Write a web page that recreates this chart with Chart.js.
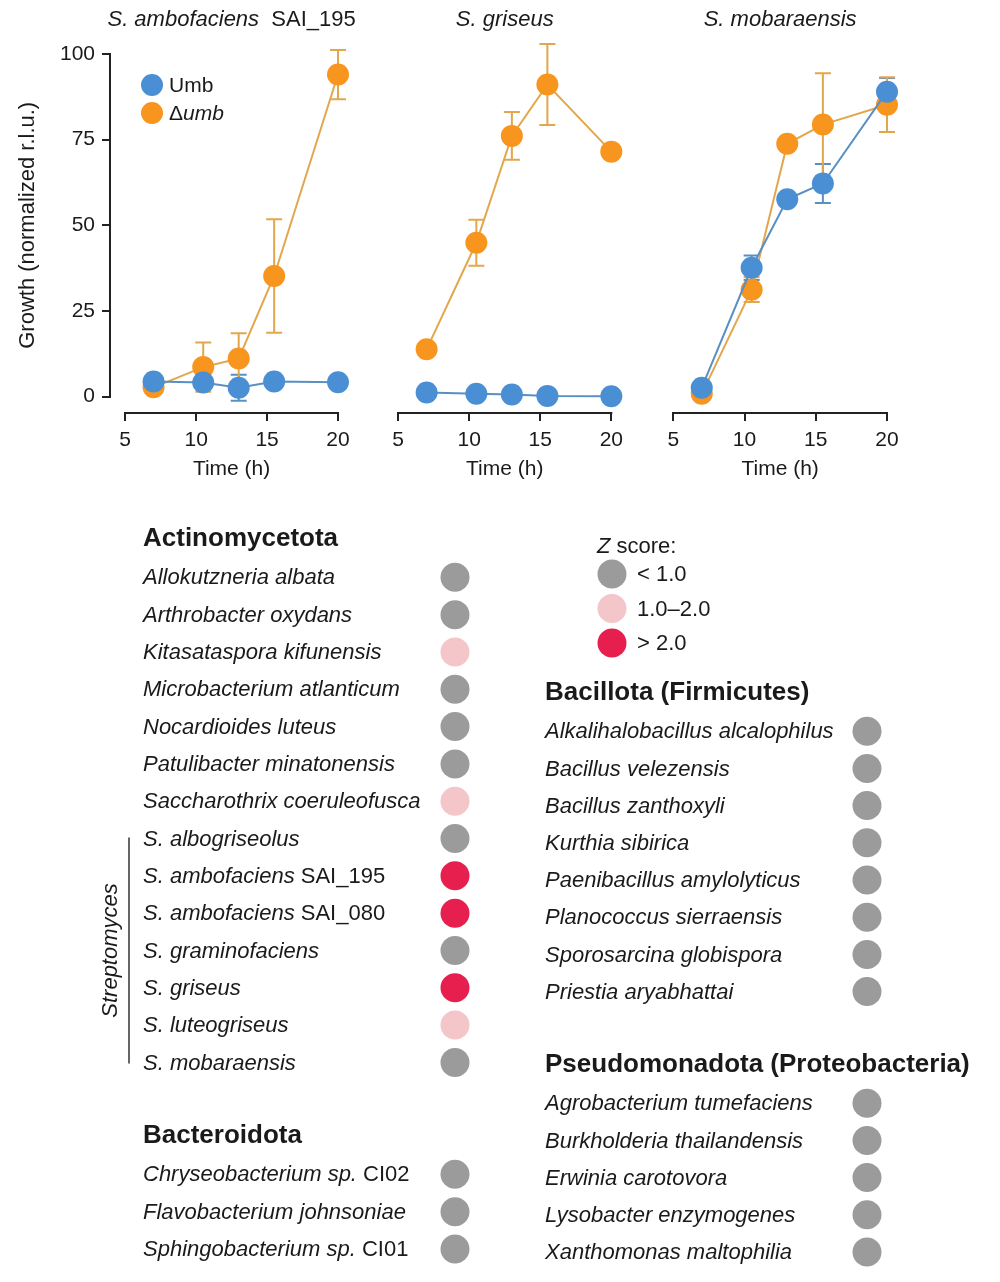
<!DOCTYPE html>
<html>
<head>
<meta charset="utf-8">
<script src="https://cdn.jsdelivr.net/npm/chart.js@4/dist/chart.umd.min.js"></script>
<style>
html,body{margin:0;padding:0;background:#fff;}
#wrap{position:relative;width:1000px;height:1282px;overflow:hidden;background:#fff;}
canvas{position:absolute;display:block;}
</style>
</head>
<body>
<div id="wrap">
  <canvas id="p1" width="370" height="490" style="left:0;top:0;width:370px;height:490px"></canvas>
  <canvas id="p2" width="260" height="490" style="left:370px;top:0;width:260px;height:490px"></canvas>
  <canvas id="p3" width="300" height="490" style="left:640px;top:0;width:300px;height:490px"></canvas>
  <canvas id="dl" width="500" height="782" style="left:0;top:500px;width:500px;height:782px"></canvas>
  <canvas id="dr" width="500" height="782" style="left:500px;top:500px;width:500px;height:782px"></canvas>
  <canvas id="zl" width="200" height="140" style="left:580px;top:525px;width:200px;height:140px"></canvas>
</div>
<script>
// ---------------- DATA ----------------
const timeH = [7, 10.5, 13, 15.5, 20];
const xTickValues = [5, 10, 15, 20];
const yTickValues = [0, 25, 50, 75, 100];
const seriesNames = ['Umb', 'Δumb'];

// S. ambofaciens SAI_195
const ambUmb    = [4.4, 4.1, 2.6, 4.4, 4.2];
const ambUmbErr = [0, 0, 3.8, 0, 0];
const ambDel    = [2.7, 8.6, 11.1, 35.2, 94.0];
const ambDelErr = [0, 7.2, 7.4, 16.6, 7.2];
// S. griseus
const griUmb    = [1.2, 0.8, 0.6, 0.2, 0.1];
const griUmbErr = [0, 0, 0, 0, 0];
const griDel    = [13.8, 44.9, 76.1, 91.1, 71.5];
const griDelErr = [0, 6.7, 7.0, 11.8, 0];
// S. mobaraensis
const mobUmb    = [2.6, 37.6, 57.6, 62.2, 89.0];
const mobUmbErr = [0, 3.6, 0, 5.7, 4.0];
const mobDel    = [0.8, 31.2, 73.8, 79.4, 85.2];
const mobDelErr = [0, 3.6, 0, 15.0, 8.0];

// Z-score dot lists ('|' separates the italic part from the upright part)
const leftRows = ['Actinomycetota', 'Allokutzneria albata', 'Arthrobacter oxydans', 'Kitasataspora kifunensis',
  'Microbacterium atlanticum', 'Nocardioides luteus', 'Patulibacter minatonensis', 'Saccharothrix coeruleofusca',
  'S. albogriseolus', 'S. ambofaciens| SAI_195', 'S. ambofaciens| SAI_080', 'S. graminofaciens', 'S. griseus',
  'S. luteogriseus', 'S. mobaraensis', '', 'Bacteroidota', 'Chryseobacterium sp.| CI02',
  'Flavobacterium johnsoniae', 'Sphingobacterium sp.| CI01'];
const leftZ = [null, 0, 0, 1, 0, 0, 0, 1, 0, 2, 2, 0, 2, 1, 0, null, null, 0, 0, 0];
const rightRows = ['Bacillota (Firmicutes)', 'Alkalihalobacillus alcalophilus', 'Bacillus velezensis',
  'Bacillus zanthoxyli', 'Kurthia sibirica', 'Paenibacillus amylolyticus', 'Planococcus sierraensis',
  'Sporosarcina globispora', 'Priestia aryabhattai', '', 'Pseudomonadota (Proteobacteria)',
  'Agrobacterium tumefaciens', 'Burkholderia thailandensis', 'Erwinia carotovora', 'Lysobacter enzymogenes',
  'Xanthomonas maltophilia'];
const rightZ = [null, 0, 0, 0, 0, 0, 0, 0, 0, null, null, 0, 0, 0, 0, 0];
const zLabels = ['< 1.0', '1.0–2.0', '> 2.0'];
const streptoGroup = ['Streptomyces', 'S. albogriseolus', 'S. mobaraensis'];

// ---------------- STYLE ----------------
const FF = '"Liberation Sans", Arial, Helvetica, sans-serif';
const INK = '#1a1a1a';
const C = { umb: '#4a8fd3', umbLine: '#5a8fc4', del: '#f7951e', delLine: '#e2a74c' };
const zColors = ['#9b9b9b', '#f4c5c9', '#e61f4f'];
Chart.defaults.font.family = FF;
Chart.defaults.color = INK;

function fnt(style, weight, size) { return style + ' ' + weight + ' ' + size + 'px ' + FF; }
function drawSegs(ctx, segs, x, y, align) {
  let total = 0;
  const ws = segs.map(s => { ctx.font = s.f; const w = ctx.measureText(s.t).width; total += w; return w; });
  let cx = align === 'center' ? x - total / 2 : (align === 'right' ? x - total : x);
  ctx.textAlign = 'left';
  segs.forEach((s, i) => { ctx.font = s.f; ctx.fillText(s.t, cx, y); cx += ws[i]; });
}
function labelSegs(label, size) {
  const parts = label.split('|');
  const segs = [{ t: parts[0], f: fnt('italic', 'normal', size) }];
  if (parts[1]) segs.push({ t: parts[1], f: fnt('normal', 'normal', size) });
  return segs;
}

// ---------------- PLUGINS ----------------
const errorBars = {
  id: 'errorBars',
  beforeDatasetsDraw(chart) {
    const ctx = chart.ctx, xs = chart.scales.x, ys = chart.scales.y;
    chart.data.datasets.forEach(ds => {
      if (!ds.errors) return;
      ctx.save();
      ctx.strokeStyle = ds.borderColor; ctx.lineWidth = 2;
      ds.data.forEach((p, j) => {
        const e = ds.errors[j];
        if (!e) return;
        const px = xs.getPixelForValue(p.x);
        const y1 = ys.getPixelForValue(p.y + e), y2 = ys.getPixelForValue(p.y - e);
        ctx.beginPath();
        ctx.moveTo(px, y1); ctx.lineTo(px, y2);
        ctx.moveTo(px - 8, y1); ctx.lineTo(px + 8, y1);
        ctx.moveTo(px - 8, y2); ctx.lineTo(px + 8, y2);
        ctx.stroke();
      });
      ctx.restore();
    });
  }
};

const decor = {
  id: 'decor',
  beforeDatasetsDraw(chart, args, o) {
    const ctx = chart.ctx, ca = chart.chartArea, xs = chart.scales.x, ys = chart.scales.y;
    ctx.save();
    ctx.strokeStyle = '#222'; ctx.lineWidth = 2;
    ctx.beginPath();
    ctx.moveTo(xs.getPixelForValue(xTickValues[0]) - 1, ca.bottom + 1);
    ctx.lineTo(xs.getPixelForValue(xTickValues[xTickValues.length - 1]) + 1, ca.bottom + 1);
    if (o.showY) {
      ctx.moveTo(ca.left - 1, ys.getPixelForValue(yTickValues[0]) + 1);
      ctx.lineTo(ca.left - 1, ys.getPixelForValue(yTickValues[yTickValues.length - 1]) - 1);
    }
    ctx.stroke();
    ctx.restore();
  },
  afterDraw(chart, args, o) {
    const ctx = chart.ctx, xs = chart.scales.x, ys = chart.scales.y;
    const xc = (xs.getPixelForValue(xTickValues[0]) + xs.getPixelForValue(xTickValues[xTickValues.length - 1])) / 2;
    ctx.save();
    ctx.fillStyle = INK; ctx.textBaseline = 'middle';
    // panel title
    drawSegs(ctx, o.title.map(s => ({ t: s[0], f: fnt(s[1] ? 'italic' : 'normal', 'normal', 22) })), xc, 20, 'center');
    // x title
    drawSegs(ctx, [{ t: 'Time (h)', f: fnt('normal', 'normal', 21) }], xc, 469, 'center');
    if (o.showY) {
      const yc = (ys.getPixelForValue(0) + ys.getPixelForValue(100)) / 2;
      ctx.save();
      ctx.translate(28, yc); ctx.rotate(-Math.PI / 2);
      drawSegs(ctx, [{ t: 'Growth (normalized r.l.u.)', f: fnt('normal', 'normal', 22) }], 0, 0, 'center');
      ctx.restore();
    }
    if (o.legend) {
      const ds = chart.data.datasets;
      const items = [
        { c: ds[0].pointBackgroundColor, segs: [{ t: seriesNames[0], f: fnt('normal', 'normal', 21) }] },
        { c: ds[1].pointBackgroundColor, segs: [{ t: 'Δ', f: fnt('normal', 'normal', 21) }, { t: seriesNames[1].slice(1), f: fnt('italic', 'normal', 21) }] }
      ];
      items.forEach((it, k) => {
        const ly = 85 + k * 28;
        ctx.fillStyle = it.c;
        ctx.beginPath(); ctx.arc(152, ly, 11, 0, Math.PI * 2); ctx.fill();
        ctx.fillStyle = INK;
        drawSegs(ctx, it.segs, 169, ly + 1, 'left');
      });
    }
    ctx.restore();
  }
};

const rowLabels = {
  id: 'rowLabels',
  afterDatasetsDraw(chart, args, o) {
    const ctx = chart.ctx, ys = chart.scales.y;
    const rows = ys.getLabels();
    ctx.save();
    ctx.fillStyle = INK; ctx.textBaseline = 'middle';
    if (o.title) drawSegs(ctx, o.title, o.titleX, o.titleY, 'left');
    rows.forEach((r, i) => {
      if (!r) return;
      const y = ys.getPixelForValue(i) + 1;
      if (o.headers && o.headers[i]) drawSegs(ctx, [{ t: r, f: fnt('normal', 'bold', 26) }], o.x, y - 2, 'left');
      else if (o.plain) drawSegs(ctx, [{ t: r, f: fnt('normal', 'normal', 22) }], o.x, y, 'left');
      else drawSegs(ctx, labelSegs(r, 22), o.x, y, 'left');
    });
    if (o.bracket) {
      const a = ys.getPixelForValue(rows.indexOf(o.bracket[1])) - 1;
      const b = ys.getPixelForValue(rows.indexOf(o.bracket[2])) + 1;
      ctx.strokeStyle = '#333'; ctx.lineWidth = 1.5;
      ctx.beginPath(); ctx.moveTo(129, a); ctx.lineTo(129, b); ctx.stroke();
      ctx.save();
      ctx.translate(111, (a + b) / 2); ctx.rotate(-Math.PI / 2);
      drawSegs(ctx, [{ t: o.bracket[0], f: fnt('italic', 'normal', 22) }], 0, 0, 'center');
      ctx.restore();
    }
    ctx.restore();
  }
};

// ---------------- CHARTS ----------------
function fixTicks(values) { return s => { s.ticks = values.map(v => ({ value: v })); }; }

function panel(id, umb, umbErr, del, delErr, o) {
  return new Chart(document.getElementById(id), {
    type: 'line',
    data: {
      datasets: [
        { label: seriesNames[0], data: timeH.map((t, i) => ({ x: t, y: umb[i] })), errors: umbErr,
          borderColor: C.umbLine, backgroundColor: C.umb, pointBackgroundColor: C.umb,
          pointBorderWidth: 0, pointRadius: 11, pointHoverRadius: 11, borderWidth: 2, tension: 0, clip: false },
        { label: seriesNames[1], data: timeH.map((t, i) => ({ x: t, y: del[i] })), errors: delErr,
          borderColor: C.delLine, backgroundColor: C.del, pointBackgroundColor: C.del,
          pointBorderWidth: 0, pointRadius: 11, pointHoverRadius: 11, borderWidth: 2, tension: 0, clip: false }
      ]
    },
    options: {
      responsive: false, animation: false, events: [],
      layout: { padding: { left: o.padL, right: o.padR, top: 54, bottom: 0 } },
      plugins: { legend: { display: false }, tooltip: { enabled: false },
        decor: { title: o.title, showY: o.showY, legend: o.legend } },
      scales: {
        x: { type: 'linear', min: 4, max: 20, afterBuildTicks: fixTicks(xTickValues),
          afterFit: s => { s.height = 78; },
          grid: { display: true, drawOnChartArea: false, drawTicks: true, tickLength: 9, color: '#222', lineWidth: 2 },
          border: { display: false },
          ticks: { font: { size: 21 }, color: INK, padding: 7, maxRotation: 0, autoSkip: false } },
        y: { type: 'linear', min: -4.5, max: 100, display: o.showY, afterBuildTicks: fixTicks(yTickValues),
          afterFit: s => { s.width = o.showY ? 111 : 0; },
          grid: { display: true, drawOnChartArea: false, drawTicks: true, tickLength: 9, color: '#222', lineWidth: 2 },
          border: { display: false },
          ticks: { font: { size: 21 }, color: INK, padding: 7, autoSkip: false } }
      }
    },
    plugins: [errorBars, decor]
  });
}

panel('p1', ambUmb, ambUmbErr, ambDel, ambDelErr,
  { padL: 0, padR: 32, showY: true, legend: true, title: [['S. ambofaciens', true], ['  SAI_195', false]] });
panel('p2', griUmb, griUmbErr, griDel, griDelErr,
  { padL: 14, padR: 18, showY: false, legend: false, title: [['S. griseus', true]] });
panel('p3', mobUmb, mobUmbErr, mobDel, mobDelErr,
  { padL: 19, padR: 53, showY: false, legend: false, title: [['S. mobaraensis', true]] });

function dotChart(id, rows, zs, pad, labelOpts) {
  const pts = [], cols = [];
  rows.forEach((r, i) => { if (zs[i] !== null) { pts.push({ x: 'Z', y: r }); cols.push(zColors[zs[i]]); } });
  labelOpts.headers = rows.map((r, i) => r !== '' && zs[i] === null);
  return new Chart(document.getElementById(id), {
    type: 'scatter',
    data: { datasets: [{ data: pts, pointRadius: 14.5, pointHoverRadius: 14.5, pointBackgroundColor: cols,
      backgroundColor: cols, pointBorderWidth: 0, borderWidth: 0, clip: false }] },
    options: {
      responsive: false, animation: false, events: [],
      layout: { padding: pad },
      plugins: { legend: { display: false }, tooltip: { enabled: false }, rowLabels: labelOpts },
      scales: {
        x: { type: 'category', labels: ['Z'], display: false, offset: true },
        y: { type: 'category', labels: rows, display: false, offset: false }
      }
    },
    plugins: [rowLabels]
  });
}

dotChart('dl', leftRows, leftZ, { left: 440, right: 30, top: 40, bottom: 33 },
  { x: 143, bracket: streptoGroup });
dotChart('dr', rightRows, rightZ, { left: 352, right: 118, top: 194, bottom: 30 },
  { x: 45 });
dotChart('zl', zLabels, [0, 1, 2], { left: 17, right: 153, top: 49, bottom: 22 },
  { x: 57, plain: true, titleX: 17, titleY: 22,
    title: [{ t: 'Z', f: fnt('italic', 'normal', 22) }, { t: ' score:', f: fnt('normal', 'normal', 22) }] });
</script>
</body>
</html>
